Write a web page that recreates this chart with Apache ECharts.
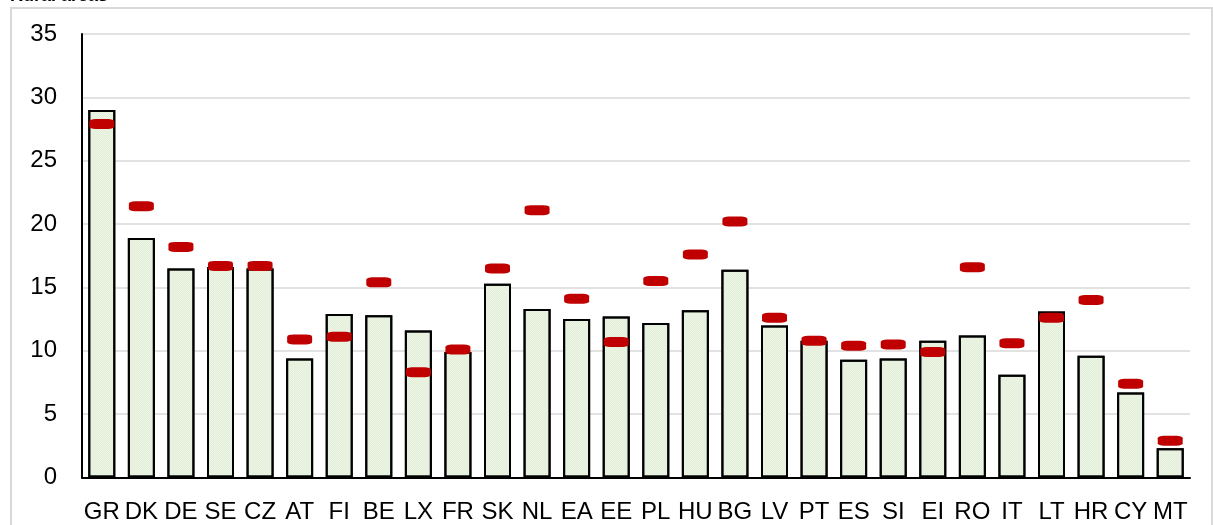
<!DOCTYPE html>
<html>
<head>
<meta charset="utf-8">
<script src="https://cdn.jsdelivr.net/npm/echarts@6/dist/echarts.min.js"></script>
<style>
  html, body { margin: 0; padding: 0; background: #ffffff; }
  #chart { width: 1213px; height: 525px; }
</style>
</head>
<body>
<div id="chart"></div>
<script>
// Rural areas: country values (bars) and comparison values (red markers)
const categories = ['GR','DK','DE','SE','CZ','AT','FI','BE','LX','FR','SK','NL','EA','EE','PL','HU','BG','LV','PT','ES','SI','EI','RO','IT','LT','HR','CY','MT'];
const barValues = [29.0, 18.9, 16.5, 16.6, 16.5, 9.4, 12.9, 12.8, 11.6, 9.9, 15.3, 13.3, 12.5, 12.7, 12.2, 13.2, 16.4, 12.0, 10.8, 9.3, 9.4, 10.8, 11.2, 8.1, 13.1, 9.6, 6.7, 2.3];
const markerValues = [27.9, 21.4, 18.2, 16.7, 16.7, 10.9, 11.1, 15.4, 8.3, 10.1, 16.5, 21.1, 14.1, 10.7, 15.5, 17.6, 20.2, 12.6, 10.8, 10.4, 10.5, 9.9, 16.6, 10.6, 12.6, 14.0, 7.4, 2.9];
const yTicks = { min: 0, max: 35, interval: 5 };
const titleText = 'Rural areas';

const FONT = '"Liberation Sans Narrow", "Arial Narrow", "Liberation Sans", Arial, sans-serif';

const chart = echarts.init(document.getElementById('chart'), null, { renderer: 'canvas' });

chart.setOption({
  backgroundColor: '#ffffff',
  animation: false,
  graphic: [
    {
      type: 'rect',
      shape: { x: 11, y: 8, width: 1201, height: 540 },
      style: { fill: 'none', stroke: '#d9d9d9', lineWidth: 2 },
      silent: true, z: 0
    },
    {
      type: 'text',
      left: 10, top: -13,
      style: { text: titleText, font: 'bold 18px ' + FONT, fill: '#000000' },
      silent: true
    }
  ],
  grid: { left: 82, right: 23, top: 34, bottom: 47.5, containLabel: false },
  xAxis: {
    type: 'category',
    data: categories,
    axisLine: { show: true, lineStyle: { color: '#000000', width: 2 } },
    axisTick: { show: false },
    axisLabel: { color: '#000000', fontSize: 24, fontFamily: FONT, margin: 23, interval: 0 },
    splitLine: { show: false },
    z: 5
  },
  yAxis: {
    type: 'value',
    min: yTicks.min, max: yTicks.max, interval: yTicks.interval,
    axisLine: { show: true, lineStyle: { color: '#000000', width: 2 } },
    axisTick: { show: false },
    axisLabel: { color: '#000000', fontSize: 24, fontFamily: FONT, margin: 25 },
    splitLine: { show: true, lineStyle: { color: '#d9d9d9', width: 1.5 } }
  },
  series: [
    {
      name: 'Current',
      type: 'bar',
      data: barValues,
      barWidth: 27,
      itemStyle: {
        color: '#ebf5e2',
        borderColor: '#000000',
        borderWidth: 2,
        decal: {
          symbol: 'rect',
          symbolSize: 1,
          color: 'rgba(200, 212, 192, 0.18)',
          dashArrayX: [[1, 1], [0, 1, 1, 0]],
          dashArrayY: [1, 0],
          rotation: 0
        }
      },
      z: 2
    },
    {
      name: 'Reference',
      type: 'scatter',
      data: markerValues,
      symbol: 'roundRect',
      symbolSize: [25, 10],
      itemStyle: { color: '#c00000', opacity: 1 },
      z: 4
    }
  ]
});
</script>
</body>
</html>
